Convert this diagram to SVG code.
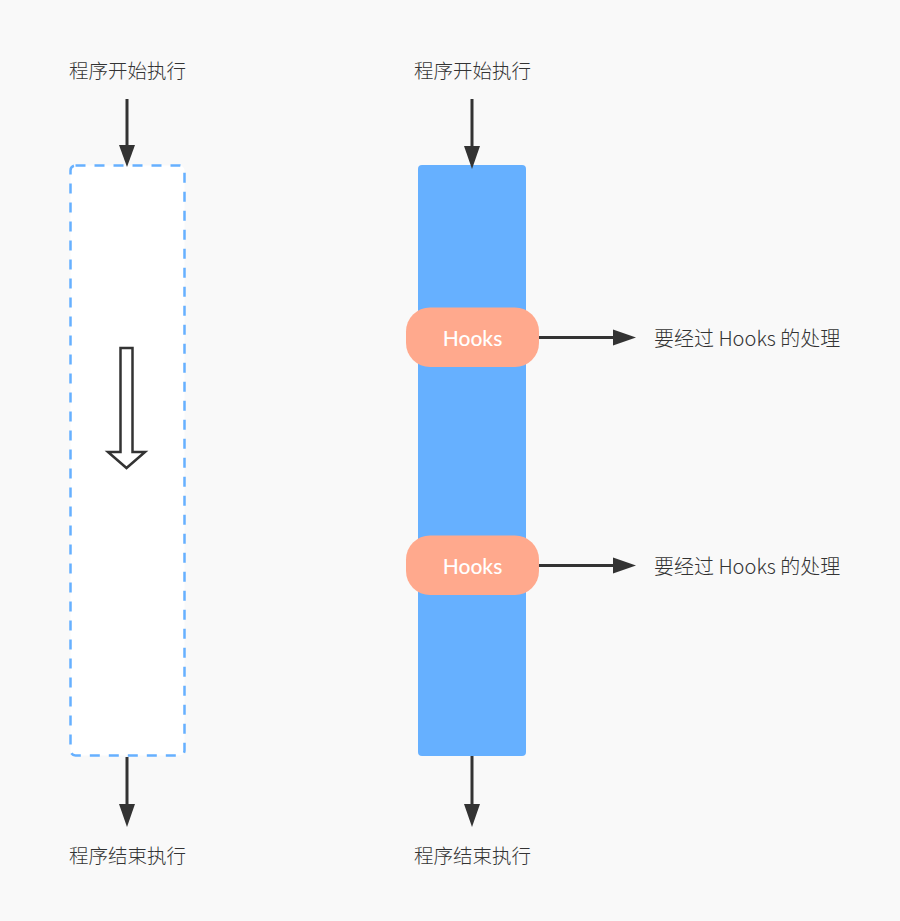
<svg xmlns="http://www.w3.org/2000/svg" width="900" height="921" viewBox="0 0 900 921">
  <defs>
    <style>
      .lbl { font-family: "Noto Sans CJK SC", "Noto Sans", sans-serif; font-size: 19.5px; fill: #333333; font-weight: 300; }
      .note { font-size: 20px; }
      .hk { font-family: Lato, "Noto Sans", sans-serif; font-size: 21px; fill: #ffffff; font-weight: 500; }
      .line { stroke: #333333; stroke-width: 3; fill: none; }
      .head { fill: #333333; }
      .pill { fill: #ffa98d; }
    </style>
  </defs>
  <rect x="0" y="0" width="900" height="921" fill="#f9f9f9"/>

  <g id="left-column">
    <rect x="70.5" y="165.5" width="114" height="590" rx="5" ry="5" fill="#ffffff" stroke="#66b0ff" stroke-width="2.5" stroke-dasharray="10 9"/>
    <polygon points="120.5,348 132.5,348 132.5,452 145,452 126.5,468 108,452 120.5,452" fill="#ffffff" stroke="#333333" stroke-width="2.5" stroke-linejoin="miter"/>
  </g>

  <g id="right-column">
    <rect x="418" y="165" width="108" height="591" rx="4" ry="4" fill="#66b0ff"/>
  </g>

  <g id="hooks-1">
    <rect class="pill" x="406" y="307.5" width="133" height="59.5" rx="24" ry="24"/>
    <text class="hk" x="472.5" y="345.5" text-anchor="middle">Hooks</text>
  </g>
  <g id="hooks-2">
    <rect class="pill" x="406" y="535.5" width="133" height="59.5" rx="24" ry="24"/>
    <text class="hk" x="472.5" y="573.5" text-anchor="middle">Hooks</text>
  </g>

  <g id="labels">
    <text id="start-left" class="lbl" x="127.5" y="78" text-anchor="middle">程序开始执行</text>
    <text id="end-left" class="lbl" x="127.5" y="863" text-anchor="middle">程序结束执行</text>
    <text id="start-right" class="lbl" x="472.5" y="78" text-anchor="middle">程序开始执行</text>
    <text id="end-right" class="lbl" x="472.5" y="863" text-anchor="middle">程序结束执行</text>
    <text id="note-1" class="lbl note" x="654" y="346">要经过 Hooks 的处理</text>
    <text id="note-2" class="lbl note" x="654" y="574">要经过 Hooks 的处理</text>
  </g>

  <g id="connectors">
    <line class="line" x1="127" y1="99" x2="127" y2="147"/>
    <polygon class="head" points="119,145 135,145 127,167"/>
    <line class="line" x1="127" y1="757" x2="127" y2="806"/>
    <polygon class="head" points="119,804 135,804 127,827"/>
    <line class="line" x1="472" y1="99" x2="472" y2="148"/>
    <polygon class="head" points="464,146 480,146 472,169"/>
    <line class="line" x1="472" y1="756" x2="472" y2="806"/>
    <polygon class="head" points="464,804 480,804 472,827"/>
    <line class="line" x1="539" y1="337.5" x2="615" y2="337.5"/>
    <polygon class="head" points="613,329.5 613,345.5 636,337.5"/>
    <line class="line" x1="539" y1="565.5" x2="615" y2="565.5"/>
    <polygon class="head" points="613,557.5 613,573.5 636,565.5"/>
  </g>
</svg>
